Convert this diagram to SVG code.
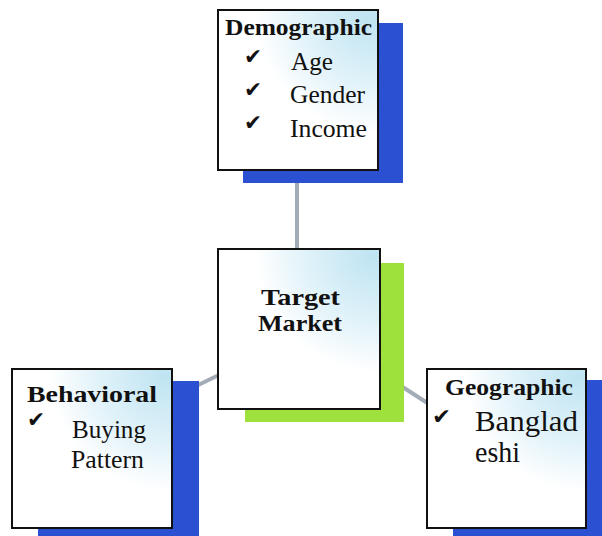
<svg xmlns="http://www.w3.org/2000/svg" width="602" height="536" viewBox="0 0 602 536">
  <defs>
    <radialGradient id="sheen" cx="1" cy="0" r="0.95" fx="0.95" fy="0.05">
      <stop offset="0" stop-color="#bfe4f2"/>
      <stop offset="0.45" stop-color="#e0f2f9"/>
      <stop offset="0.8" stop-color="#ffffff"/>
    </radialGradient>
    <style>
      .card { fill: url(#sheen); stroke: #111; stroke-width: 2; }
      .blue { fill: #2c50d2; }
      .green { fill: #9ee03c; }
      .link { stroke: #a3abb6; stroke-width: 4; fill: none; }
      .head { font-family: "Liberation Serif", "Times New Roman", serif; font-weight: bold; fill: #111; }
      .item { font-family: "Liberation Serif", "Times New Roman", serif; fill: #111; }
      .tick { font-family: "DejaVu Sans", sans-serif; fill: #111; font-size: 22px; }
    </style>
  </defs>
  <rect width="602" height="536" fill="#ffffff"/>

  <!-- connectors -->
  <g id="connectors">
    <line class="link" x1="297" y1="170" x2="297" y2="250"/>
    <line class="link" x1="190" y1="389" x2="225" y2="372"/>
    <line class="link" x1="398" y1="384" x2="432" y2="406"/>
  </g>

  <!-- top: demographic -->
  <g id="demographic">
    <rect class="blue" x="243" y="23" width="160" height="160"/>
    <rect class="card" x="218" y="10" width="160" height="160"/>
    <text class="head" x="225" y="35" font-size="24" textLength="147" lengthAdjust="spacingAndGlyphs">Demographic</text>
    <text class="tick" x="244" y="64" textLength="18" lengthAdjust="spacingAndGlyphs">✔</text>
    <text class="tick" x="244" y="97" textLength="18" lengthAdjust="spacingAndGlyphs">✔</text>
    <text class="tick" x="244" y="130" textLength="18" lengthAdjust="spacingAndGlyphs">✔</text>
    <text class="item" x="291" y="70" font-size="25" textLength="42" lengthAdjust="spacingAndGlyphs">Age</text>
    <text class="item" x="290" y="103" font-size="25" textLength="75" lengthAdjust="spacingAndGlyphs">Gender</text>
    <text class="item" x="290" y="137" font-size="25" textLength="77" lengthAdjust="spacingAndGlyphs">Income</text>
  </g>

  <!-- centre: target market -->
  <g id="target-market">
    <rect class="green" x="245" y="263" width="159" height="159"/>
    <rect class="card" x="218" y="249" width="162" height="160"/>
    <text class="head" x="261" y="305" font-size="23" textLength="79" lengthAdjust="spacingAndGlyphs">Target</text>
    <text class="head" x="258" y="331" font-size="23" textLength="84" lengthAdjust="spacingAndGlyphs">Market</text>
  </g>

  <!-- left: behavioral -->
  <g id="behavioral">
    <rect class="blue" x="38" y="381" width="161" height="160"/>
    <rect class="card" x="12" y="369" width="160" height="159"/>
    <text class="head" x="27" y="402" font-size="24" textLength="130" lengthAdjust="spacingAndGlyphs">Behavioral</text>
    <text class="tick" x="27" y="427" textLength="18" lengthAdjust="spacingAndGlyphs">✔</text>
    <text class="item" x="72" y="438" font-size="25" textLength="74" lengthAdjust="spacingAndGlyphs">Buying</text>
    <text class="item" x="71" y="468" font-size="25" textLength="73" lengthAdjust="spacingAndGlyphs">Pattern</text>
  </g>

  <!-- right: geographic -->
  <g id="geographic">
    <rect class="blue" x="453" y="380" width="160" height="160"/>
    <rect class="card" x="427" y="369" width="159" height="159"/>
    <text class="head" x="445" y="395" font-size="23" textLength="128" lengthAdjust="spacingAndGlyphs">Geographic</text>
    <text class="tick" x="432" y="424" textLength="19" lengthAdjust="spacingAndGlyphs">✔</text>
    <text class="item" x="475" y="431" font-size="30" textLength="103" lengthAdjust="spacingAndGlyphs">Banglad</text>
    <text class="item" x="475" y="462" font-size="30" textLength="45" lengthAdjust="spacingAndGlyphs">eshi</text>
  </g>
</svg>
